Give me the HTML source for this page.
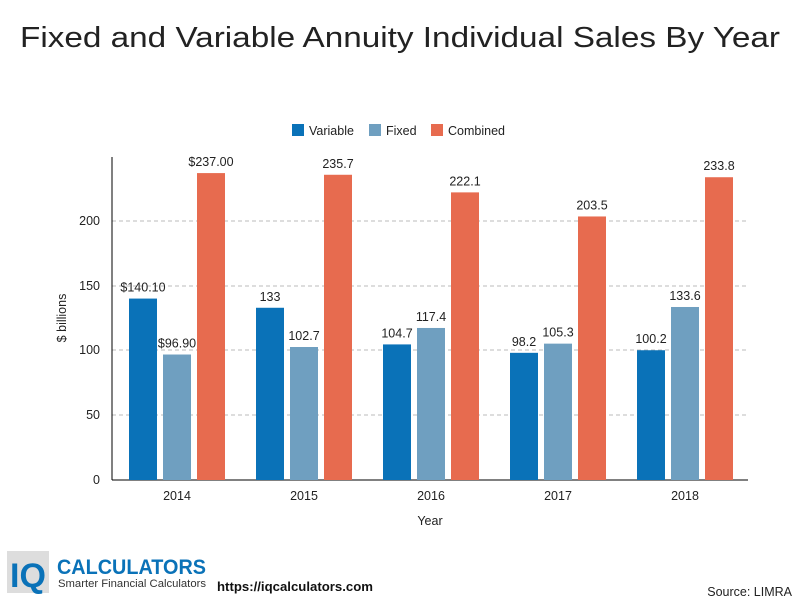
<!DOCTYPE html>
<html><head><meta charset="utf-8"><style>body{margin:0;background:#fff}svg{display:block;font-family:"Liberation Sans",sans-serif}</style></head><body>
<svg width="800" height="600" viewBox="0 0 800 600">
<rect width="800" height="600" fill="#fff"/>
<text x="20" y="47" font-size="29" textLength="760" lengthAdjust="spacingAndGlyphs" fill="#222">Fixed and Variable Annuity Individual Sales By Year</text>
<g font-size="12.5" fill="#222">
<rect x="292" y="124" width="12" height="12" fill="#0a72b8"/><text x="309" y="135">Variable</text>
<rect x="369" y="124" width="12" height="12" fill="#6f9fc0"/><text x="386" y="135">Fixed</text>
<rect x="431" y="124" width="12" height="12" fill="#e76b4f"/><text x="448" y="135">Combined</text>
</g>
<g stroke="#bbb" stroke-dasharray="4,3">
<line x1="112" x2="748" y1="221" y2="221"/><line x1="112" x2="748" y1="286" y2="286"/><line x1="112" x2="748" y1="350" y2="350"/><line x1="112" x2="748" y1="415" y2="415"/>
</g>
<line x1="112" x2="112" y1="157" y2="480" stroke="#000"/>
<line x1="112" x2="748" y1="480" y2="480" stroke="#000"/>
<g font-size="12.5" fill="#222" text-anchor="end">
<text x="100" y="484">0</text><text x="100" y="419">50</text><text x="100" y="354">100</text><text x="100" y="290">150</text><text x="100" y="225">200</text>
</g>
<text transform="translate(66,318) rotate(-90)" font-size="12.5" text-anchor="middle" fill="#222">$ billions</text>
<text x="430" y="525" font-size="12.5" text-anchor="middle" fill="#222">Year</text>
<g id="bars" font-size="12.5" fill="#222" text-anchor="middle"></g>
<g>
<rect x="7" y="551" width="42" height="42" fill="#ddd"/>
<text x="28" y="587" font-size="34" font-weight="bold" fill="#0a72b8" text-anchor="middle">IQ</text>
<text x="57" y="574" font-size="21" font-weight="bold" fill="#0a72b8" textLength="149" lengthAdjust="spacingAndGlyphs">CALCULATORS</text>
<text x="58" y="587" font-size="11" fill="#333" textLength="148" lengthAdjust="spacingAndGlyphs">Smarter Financial Calculators</text>
<text x="217" y="591" font-size="13" font-weight="bold" fill="#111" textLength="156" lengthAdjust="spacingAndGlyphs">https://iqcalculators.com</text>
<text x="792" y="596" font-size="12.5" fill="#222" text-anchor="end">Source: LIMRA</text>
</g>
</svg>
<script>
var d=[["2014",140.1,96.9,237,"$140.10","$96.90","$237.00"],["2015",133,102.7,235.7,"133","102.7","235.7"],["2016",104.7,117.4,222.1,"104.7","117.4","222.1"],["2017",98.2,105.3,203.5,"98.2","105.3","203.5"],["2018",100.2,133.6,233.8,"100.2","133.6","233.8"]];
var c=["#0a72b8","#6f9fc0","#e76b4f"],s="";
d.forEach(function(r,i){var x0=129+127*i;for(var k=0;k<3;k++){var x=x0+34*k,h=r[k+1]*1.295,y=480-h;s+='<rect x="'+x+'" y="'+y+'" width="28" height="'+h+'" fill="'+c[k]+'"/>';s+='<text x="'+(x+14)+'" y="'+(y-7)+'">'+r[k+4]+'</text>';}
s+='<text x="'+(x0+48)+'" y="500">'+r[0]+'</text>';});
document.getElementById("bars").innerHTML=s;
</script>
</body></html>
